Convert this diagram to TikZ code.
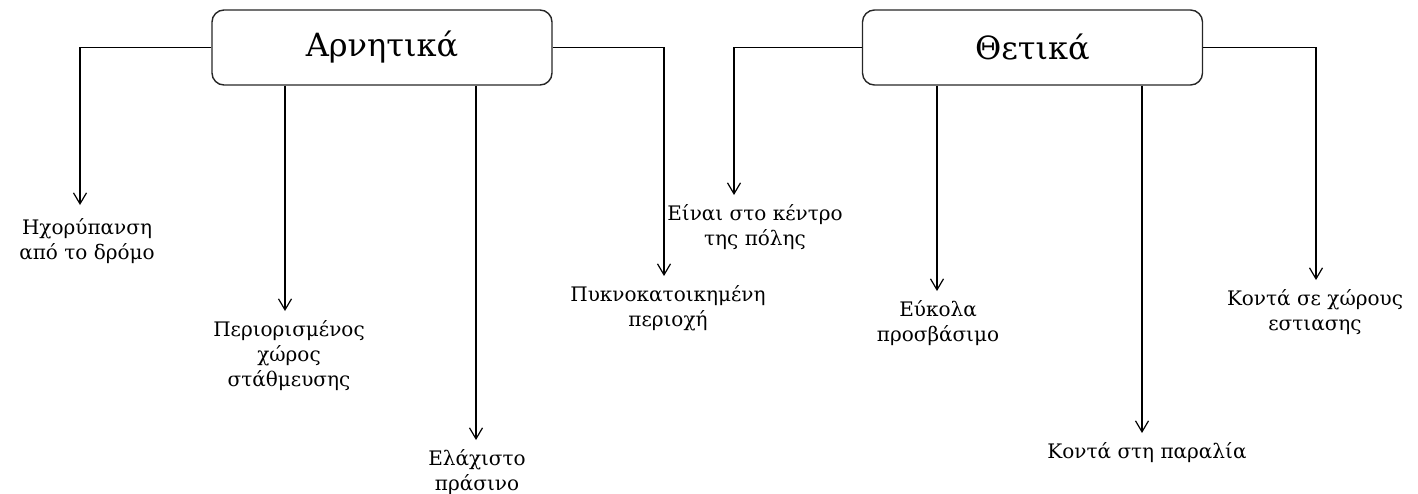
\documentclass[tikz,border=0pt]{standalone}
\usepackage{fontspec}
\setmainfont{DejaVu Serif}
\usetikzlibrary{arrows.meta}
\begin{document}
\begin{tikzpicture}[x=1pt,y=-1pt,
  headbox/.style={draw=black!85,line width=1.4pt,rounded corners=12pt,minimum width=340pt,minimum height=75pt,inner sep=0pt,font=\fontsize{32}{38}\selectfont},
  lbl/.style={anchor=north,align=center,inner xsep=0pt,inner ysep=9pt,font=\fontsize{20}{25}\selectfont},
  arr/.style={line width=1.4pt,-{Straight Barb[length=11pt,width=13pt,line width=1.2pt]}}]
\useasboundingbox (0,0) rectangle (1418,493);
\node[headbox] (neg) at (382,47.5) {Αρνητικά};
\node[headbox] (pos) at (1032.5,47.5) {Θετικά};
% labels
\node[lbl,inner ysep=13pt] (n1) at (87,205) {Ηχορύπανση\\από το δρόμο};
\node[lbl] (n2) at (289,311) {Περιορισμένος\\χώρος\\στάθμευσης};
\node[lbl] (n3) at (477,440) {Ελάχιστο\\πράσινο};
\node[lbl] (n4) at (668,276) {Πυκνοκατοικημένη\\περιοχή};
\node[lbl] (p1) at (755,195) {Είναι στο κέντρο\\της πόλης};
\node[lbl] (p2) at (938,291) {Εύκολα\\προσβάσιμο};
\node[lbl] (p3) at (1147,433) {Κοντά στη παραλία};
\node[lbl] (p4) at (1315,280) {Κοντά σε χώρους\\εστιασης};
% arrow tips
\coordinate (t1) at ([xshift=-7pt]n1.north);
\coordinate (t2) at ([xshift=-4pt]n2.north);
\coordinate (t3) at ([xshift=-1pt]n3.north);
\coordinate (t4) at ([xshift=-4pt]n4.north);
\coordinate (u1) at ([xshift=-21pt]p1.north);
\coordinate (u2) at ([xshift=-1pt]p2.north);
\coordinate (u3) at ([xshift=-5pt]p3.north);
\coordinate (u4) at ([xshift=1pt]p4.north);
% connectors
\draw[arr] (neg.west) -| (t1);
\draw[arr] (neg.south -| t2) -- (t2);
\draw[arr] (neg.south -| t3) -- (t3);
\draw[arr] (neg.east) -| (t4);
\draw[arr] (pos.west) -| (u1);
\draw[arr] (pos.south -| u2) -- (u2);
\draw[arr] (pos.south -| u3) -- (u3);
\draw[arr] (pos.east) -| (u4);
\end{tikzpicture}
\end{document}
